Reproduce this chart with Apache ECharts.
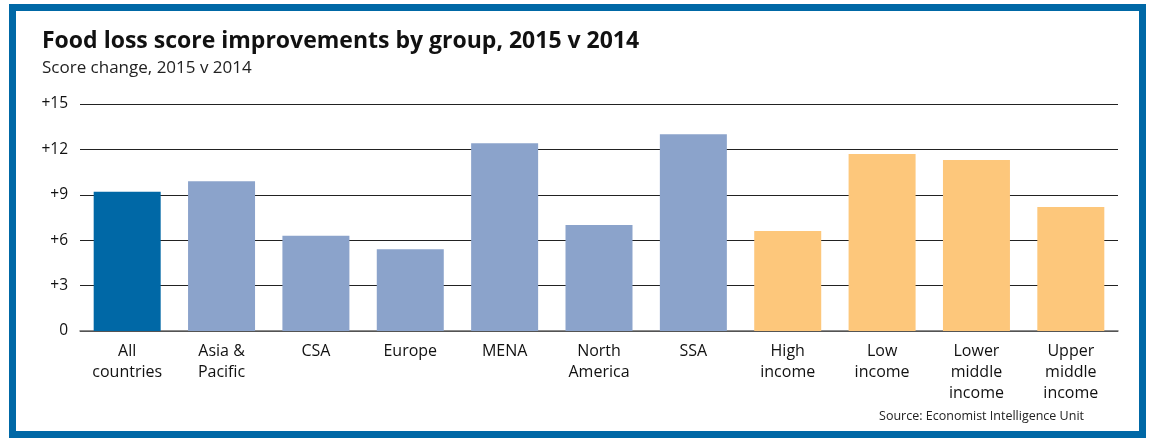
<!DOCTYPE html>
<html>
<head>
<meta charset="utf-8">
<style>
  html, body { margin: 0; padding: 0; background: #fff; }
  #chart { width: 1152px; height: 438px; }
</style>
<script src="https://cdn.jsdelivr.net/npm/echarts@6/dist/echarts.min.js"></script>
</head>
<body>
<div id="chart"></div>
<script>
// data
var categories = ['All\ncountries', 'Asia &\nPacific', 'CSA', 'Europe', 'MENA', 'North\nAmerica', 'SSA',
                  'High\nincome', 'Low\nincome', 'Lower\nmiddle\nincome', 'Upper\nmiddle\nincome'];
var scoreChange = [9.2, 9.9, 6.3, 5.4, 12.4, 7.0, 13.0, 6.6, 11.7, 11.3, 8.2];
var groupOf = ['all', 'region', 'region', 'region', 'region', 'region', 'region',
               'income', 'income', 'income', 'income'];
var yTicks = [0, 3, 6, 9, 12, 15];

var groupColors = { all: '#0068a6', region: '#8ba3cb', income: '#fdc77b' };
var font = '"Open Sans", "Noto Sans", sans-serif';

var chart = echarts.init(document.getElementById('chart'));
chart.setOption({
    animation: false,
    backgroundColor: '#fff',
    title: {
        text: 'Food loss score improvements by group, 2015 v 2014',
        subtext: 'Score change, 2015 v 2014',
        left: 37,
        top: 25,
        itemGap: 7,
        textStyle: { fontFamily: font, fontSize: 23, fontWeight: 'bold', color: '#111' },
        subtextStyle: { fontFamily: font, fontSize: 17, color: '#222' }
    },
    grid: { left: 80, right: 34, top: 104, bottom: 107 },
    xAxis: {
        type: 'category',
        data: categories,
        axisLine: { show: true, lineStyle: { color: '#666', width: 1.5 } },
        axisTick: { show: false },
        axisLabel: {
            interval: 0,
            margin: 10,
            fontFamily: font,
            fontSize: 16,
            lineHeight: 21,
            color: '#111',
            verticalAlign: 'top'
        }
    },
    yAxis: {
        type: 'value',
        min: yTicks[0],
        max: yTicks[yTicks.length - 1],
        interval: 3,
        axisLine: { show: false },
        axisTick: { show: false },
        splitLine: { lineStyle: { color: '#222', width: 1.2 } },
        axisLabel: {
            margin: 12,
            fontFamily: font,
            fontSize: 15.5,
            color: '#111',
            formatter: function (v) { return v === 0 ? '0' : '+' + v; }
        }
    },
    series: [{
        type: 'bar',
        barCategoryGap: '29%',
        data: scoreChange.map(function (v, i) {
            return { value: v, itemStyle: { color: groupColors[groupOf[i]] } };
        })
    }],
    graphic: [
        {
            type: 'rect',
            shape: { x: 12.5, y: 7.5, width: 1130, height: 427 },
            style: { fill: 'none', stroke: '#0068a6', lineWidth: 7 },
            silent: true
        },
        {
            type: 'text',
            right: 68,
            top: 410,
            style: {
                text: 'Source: Economist Intelligence Unit',
                fontFamily: font,
                fontSize: 12.5,
                fill: '#222'
            }
        }
    ]
});
</script>
</body>
</html>
